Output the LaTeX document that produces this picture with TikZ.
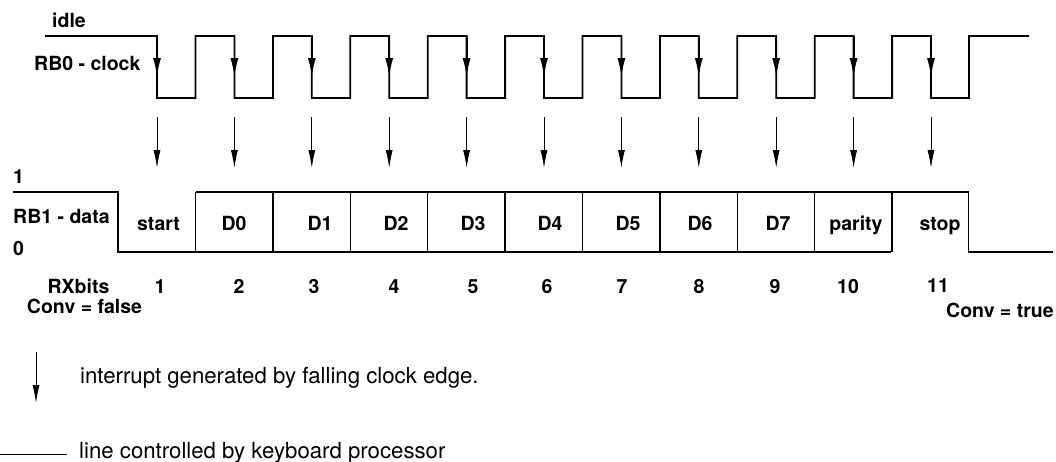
\documentclass[tikz,border=0pt]{standalone}
\usepackage{fontspec}
\setmainfont{TeX Gyre Heros}
\usetikzlibrary{arrows.meta}

\begin{document}
\begin{tikzpicture}[x=1pt,y=-1pt,
  lbl/.style={font=\fontsize{19.5}{22}\selectfont\bfseries, inner sep=0pt, anchor=base},
  lblw/.style={lbl, anchor=base west},
  note/.style={font=\fontsize{22.2}{26}\selectfont, inner sep=0pt, anchor=base west},
  clockline/.style={line width=1.8pt, line join=miter},
  dataline/.style={line width=1.4pt},
  edgetip/.style={line width=1.8pt, -{Latex[length=19pt,width=8pt]}},
  irqarrow/.style={line width=0.9pt, -{Latex[length=18pt,width=7pt]}},
]
\useasboundingbox (0,0) rectangle (1056,461);

% clock waveform: idle high, eleven falling edges
\draw[clockline] (45,36) -- (157,36)
  \foreach \k in {0,...,9} {
    -- ({157+77.4*\k},98) -- ({195.5+77.4*\k},98)
    -- ({195.5+77.4*\k},36) -- ({234.4+77.4*\k},36)
  }
  -- (931,98) -- (969,98) -- (969,36) -- (1029,36);

% arrowheads marking each falling clock edge, and the interrupts below
\foreach \k in {0,...,10} {
  \draw[edgetip] ({157+77.4*\k},36) -- ({157+77.4*\k},77);
  \draw[irqarrow] ({157+77.4*\k},117) -- ({157+77.4*\k},168);
}

% data line: start bit low, D0..parity frames, stop bit high
\draw[dataline] (13,192) -- (118,192) -- (118,252) -- (891,252);
\draw[dataline] (195.5,192) -- (968.5,192) -- (968.5,252) -- (1053,252);
\foreach \k in {0,...,9}
  \draw[dataline] ({195.5+77.4*\k},192) -- ({195.5+77.4*\k},252);

% signal labels
\node[lbl]  (idle)  at (69,27) {idle};
\node[lblw] (rb0)   at (34,70) {RB0 - clock};
\node[lblw] (one)   at (13,183) {1};
\node[lblw] (rb1)   at (13,223) {RB1 - data};
\node[lblw] (zero)  at (13,255) {0};

% bit names
\node[lbl] (bstart)  at (158.5,230) {start};
\node[lbl] (bd0)     at (234,230) {D0};
\node[lbl] (bd1)     at (320,230) {D1};
\node[lbl] (bd2)     at (396,230) {D2};
\node[lbl] (bd3)     at (473,230) {D3};
\node[lbl] (bd4)     at (550,230) {D4};
\node[lbl] (bd5)     at (628,230) {D5};
\node[lbl] (bd6)     at (700,230) {D6};
\node[lbl] (bd7)     at (778,230) {D7};
\node[lbl] (bpar)    at (856,230) {parity};
\node[lbl] (bstop)   at (940,230) {stop};

% bit counter
\node[lbl] (rxbits) at (78.5,293) {RXbits};
\node[lbl] (convf)  at (84.5,313) {Conv = false};
\node[lbl] (n1)  at (160,293) {1};
\node[lbl] (n2)  at (239,293) {2};
\node[lbl] (n3)  at (314,293) {3};
\node[lbl] (n4)  at (394,293) {4};
\node[lbl] (n5)  at (473,293) {5};
\node[lbl] (n6)  at (547,293) {6};
\node[lbl] (n7)  at (622,293) {7};
\node[lbl] (n8)  at (699,293) {8};
\node[lbl] (n9)  at (775,293) {9};
\node[lbl] (n10) at (848,293) {10};
\node[lbl] (n11) at (938,292) {11};
\node[lblw] (convt) at (946,317) {Conv = true};

% legend
\coordinate (legtop) at (36,352);
\coordinate (legbot) at (36,403);
\draw[irqarrow] (legtop) -- (legbot);
\node[note] (legirq) at (80,383) {interrupt generated by falling clock edge.};
\coordinate (linea) at (0,454);
\coordinate (lineb) at (67,454);
\draw[line width=0.9pt] (linea) -- (lineb);
\node[note] (legline) at (79,458) {line controlled by keyboard processor};
\end{tikzpicture}
\end{document}
